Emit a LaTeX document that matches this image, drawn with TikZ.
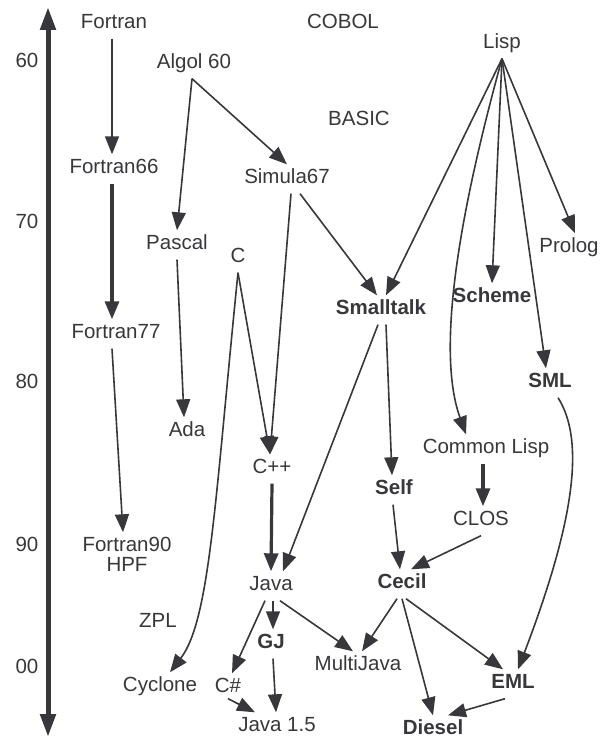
\documentclass[tikz,border=0pt]{standalone}
\usepackage{fontspec}
\setmainfont{Liberation Sans}
\usetikzlibrary{arrows.meta}
\definecolor{ink}{RGB}{55,55,60}

\begin{document}
\begin{tikzpicture}[x=1pt,y=-1pt,
  lang/.style={text=ink, font=\fontsize{20.5}{24}\selectfont, text height=14pt, text depth=5pt, inner sep=5pt},
  oolang/.style={lang, font=\fontsize{20.5}{24}\selectfont\bfseries},
  infl/.style={draw=ink, line width=1.6pt, -{Triangle[length=18pt,width=14pt]}},
  strong/.style={infl, line width=3.2pt},
  timeline/.style={draw=ink, line width=5pt, {Triangle[length=23pt,width=15pt]}-{Triangle[length=23pt,width=15pt]}}]

\useasboundingbox (0,0) rectangle (610,738);

%%%%% time axis
\coordinate (ttop) at (48,7); \coordinate (tbot) at (48,737);
\draw[timeline] (ttop) -- (tbot);
\node[lang] (y60) at (27,63) {60}; \node[lang] (y70) at (27,224) {70}; \node[lang] (y80) at (27,384) {80};
\node[lang] (y90) at (27,547) {90}; \node[lang] (y00) at (27,669) {00};

%%%%% languages
\node[lang] (fortran) at (114,24) {Fortran}; \node[lang] (cobol) at (343,24) {COBOL}; \node[lang] (lisp) at (502,44) {Lisp};
\node[lang] (algol) at (194,64) {Algol 60}; \node[lang] (basic) at (359,121) {BASIC};
\node[lang] (f66) at (114,169) {Fortran66}; \node[lang] (simula) at (287,179) {Simula67};
\node[lang] (pascal) at (177,245) {Pascal}; \node[lang] (c) at (238,258) {C}; \node[lang] (prolog) at (569,248) {Prolog};
\node[oolang] (smalltalk) at (381,310) {Smalltalk}; \node[oolang] (scheme) at (492,298) {Scheme};
\node[lang] (f77) at (116,334) {Fortran77}; \node[oolang] (sml) at (550,383) {SML};
\node[lang] (ada) at (187,432) {Ada}; \node[lang] (clisp) at (486,449) {Common Lisp}; \node[lang] (cpp) at (272,469) {C++};
\node[oolang] (self) at (394,490) {Self}; \node[lang] (clos) at (481,521) {CLOS};
\node[lang] (f90) at (127,547) {Fortran90}; \node[lang] (hpf) at (127,567) {HPF};
\node[lang] (java) at (271,586) {Java}; \node[oolang] (cecil) at (402,584) {Cecil};
\node[lang] (zpl) at (158,623) {ZPL}; \node[oolang] (gj) at (271,644) {GJ}; \node[lang] (multijava) at (358,666) {MultiJava};
\node[lang] (cyclone) at (160,687) {Cyclone}; \node[lang] (csharp) at (228,688) {C\#}; \node[oolang] (eml) at (513,684) {EML};
\node[lang] (java15) at (277,727) {Java 1.5}; \node[oolang] (diesel) at (433,730) {Diesel};

%%%%% Fortran line
\draw[infl] ([xshift=-2pt]fortran.south) -- ([xshift=-2pt]f66.north);
\draw[strong] ([xshift=-2pt]f66.south) -- ([xshift=-4pt]f77.north);
\draw[infl] ([xshift=-4pt]f77.south) -- ([xshift=-4pt]f90.north);

%%%%% Algol family
\draw[infl] ([xshift=-2pt]algol.south) -- (pascal.north); \draw[infl] ([xshift=-2pt]algol.south) -- (simula.north);
\draw[infl] (pascal.south) -- ([xshift=-3pt]ada.north);
\draw[infl] ([xshift=4pt]simula.south) -- ([xshift=-2pt]cpp.north); \draw[infl] ([xshift=13pt]simula.south) -- ([xshift=-4pt]smalltalk.north);
\draw[infl] (c.south) -- ([xshift=-2pt]cpp.north);
\draw[infl] (c.south) .. controls (215,500) and (210,620) .. ([xshift=10pt]cyclone.north);

%%%%% Lisp family
\draw[infl] (lisp.south) -- ([xshift=5pt]smalltalk.north);
\draw[infl] (lisp.south) .. controls (470,175) and (432,340) .. ([xshift=-20pt]clisp.north);
\draw[infl] (lisp.south) -- (scheme.north); \draw[infl] (lisp.south) -- ([xshift=-4pt]sml.north);
\draw[infl] (lisp.south) -- ([xshift=6pt]prolog.north);
\draw[strong] ([xshift=-3pt]clisp.south) -- ([xshift=2pt]clos.north);
\draw[infl] ([xshift=8pt]sml.south) .. controls (585,440) and (575,520) .. ([xshift=5pt]eml.north);

%%%%% Smalltalk and after
\draw[infl] ([xshift=-3pt]smalltalk.south) -- ([xshift=12pt]java.north); \draw[infl] ([xshift=5pt]smalltalk.south) -- ([xshift=-2pt]self.north);
\draw[strong] (cpp.south) -- (java.north);
\draw[infl] ([xshift=-1pt]self.south) -- ([xshift=-2pt]cecil.north); \draw[infl] (clos.south) -- ([xshift=9pt]cecil.north);

%%%%% Java and Cecil
\draw[infl] ([xshift=-6pt]java.south) -- ([xshift=4pt]csharp.north); \draw[infl] ([xshift=2pt]java.south) -- ([xshift=2pt]gj.north);
\draw[infl] ([xshift=9pt]java.south) -- ([xshift=-5pt]multijava.north);
\draw[infl] ([xshift=-5pt]cecil.south) -- ([xshift=4pt]multijava.north); \draw[infl] (cecil.south) -- (diesel.north);
\draw[infl] ([xshift=4pt]cecil.south) -- ([xshift=-10pt]eml.north);
\draw[infl] ([xshift=2pt]gj.south) -- ([xshift=-1pt]java15.north); \draw[infl] ([yshift=4pt]csharp.south) -- ([xshift=-22pt]java15.north);
\draw[infl] ([xshift=-8pt]eml.south) -- ([xshift=15pt]diesel.north);

\end{tikzpicture}
\end{document}
